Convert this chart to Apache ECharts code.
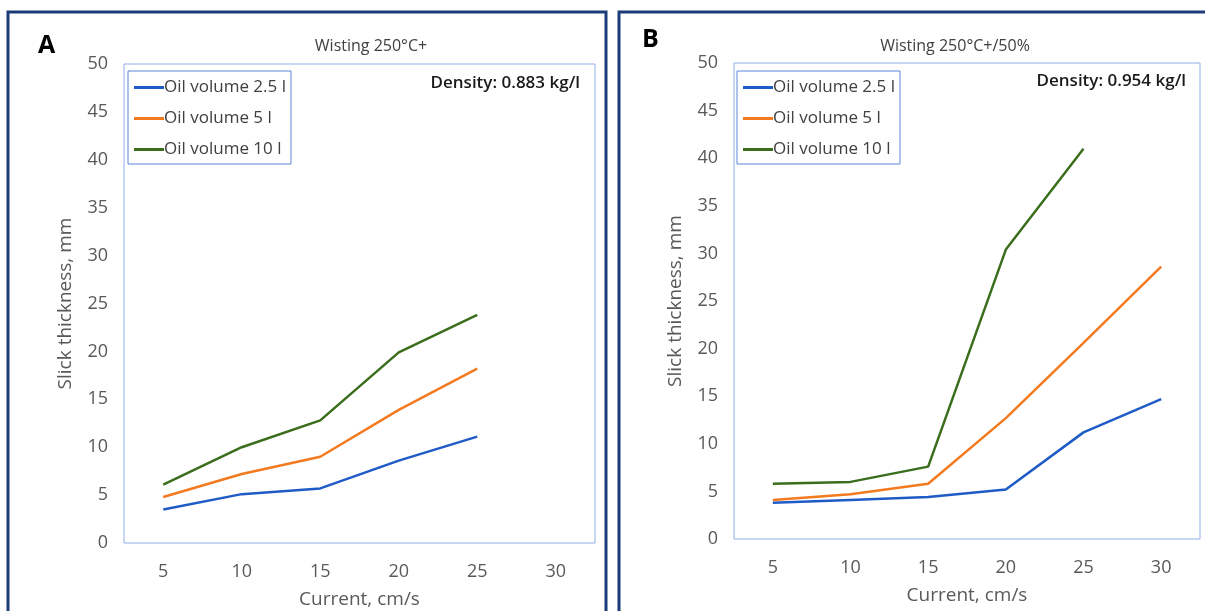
<!DOCTYPE html>
<html>
<head>
<meta charset="utf-8">
<script src="https://cdn.jsdelivr.net/npm/echarts@6/dist/echarts.min.js"></script>
<style>
  html, body { margin: 0; padding: 0; background: #fff; }
  #chart { width: 1205px; height: 611px; }
</style>
</head>
<body>
<div id="chart"></div>
<script>
// current, cm/s
const currents = ["5", "10", "15", "20", "25", "30"];
const seriesNames = ["Oil volume 2.5 l", "Oil volume 5 l", "Oil volume 10 l"];

// panel A - Wisting 250°C+
const aVol25 = [3.5, 5.1, 5.7, 8.6, 11.1];
const aVol5 = [4.8, 7.2, 9.0, 13.9, 18.2];
const aVol10 = [6.1, 10.0, 12.8, 19.9, 23.8];

// panel B - Wisting 250°C+/50%
const bVol25 = [3.8, 4.1, 4.4, 5.2, 11.2, 14.7];
const bVol5 = [4.1, 4.7, 5.8, 12.7, 20.6, 28.6];
const bVol10 = [5.8, 6.0, 7.6, 30.4, 41.0];

const colors = ["#1f5bc6", "#f47a20", "#3b6e1c"];
const font = "Open Sans";
const txt = "#595959";
const plotBorder = "#8eaee8";
const frame = "#1b3c78";

function xAxis(idx) {
  return {
    type: "category",
    gridIndex: idx,
    data: currents,
    boundaryGap: true,
    axisLine: { show: false },
    axisTick: { show: false },
    axisLabel: { color: txt, fontSize: 18, fontFamily: font, margin: 20 },
    name: "Current, cm/s",
    nameLocation: "middle",
    nameGap: 47,
    nameTextStyle: { color: txt, fontSize: 19, fontFamily: font },
  };
}

function yAxis(idx) {
  return {
    type: "value",
    gridIndex: idx,
    min: 0,
    max: 50,
    interval: 5,
    axisLine: { show: false },
    axisTick: { show: false },
    splitLine: { show: false },
    axisLabel: { color: txt, fontSize: 18, fontFamily: font, margin: 16 },
    name: "Slick thickness, mm",
    nameLocation: "middle",
    nameGap: 49,
    nameTextStyle: { color: txt, fontSize: 19, fontFamily: font },
  };
}

function line(name, data, idx, color) {
  return {
    name: name,
    type: "line",
    xAxisIndex: idx,
    yAxisIndex: idx,
    data: data,
    showSymbol: false,
    symbol: "none",
    color: color,
    lineStyle: { width: 2.5, color: color },
  };
}

function legend(left) {
  return {
    data: seriesNames,
    orient: "vertical",
    left: left,
    top: 71,
    padding: [8, 5, 6, 6],
    itemGap: 14,
    itemWidth: 30,
    itemHeight: 3,
    icon: "rect",
    borderColor: "#5b86d8",
    borderWidth: 1,
    borderRadius: 0,
    selectedMode: false,
    textStyle: { color: "#404040", fontSize: 17, fontFamily: font, padding: [0, 0, 0, -5] },
  };
}

const option = {
  animation: false,
  color: colors,
  title: [
    { text: "A", left: 33, top: 28, textStyle: { fontSize: 25, fontWeight: "bold", color: "#000", fontFamily: font } },
    { text: "B", left: 637, top: 22, textStyle: { fontSize: 25, fontWeight: "bold", color: "#000", fontFamily: font } },
    { text: "Wisting 250°C+", left: 366, top: 33, textAlign: "center", textStyle: { fontSize: 16, fontWeight: "normal", color: "#404040", fontFamily: font } },
    { text: "Wisting 250°C+/50%", left: 950, top: 33, textAlign: "center", textStyle: { fontSize: 16, fontWeight: "normal", color: "#404040", fontFamily: font } },
    { text: "Density: 0.883 kg/l", right: 1205 - 585, top: 70, textStyle: { fontSize: 17, fontWeight: 600, color: "#1a1a1a", fontFamily: font } },
    { text: "Density: 0.954 kg/l", right: 1205 - 1191, top: 68, textStyle: { fontSize: 17, fontWeight: 600, color: "#1a1a1a", fontFamily: font } },
  ],
  legend: [legend(128), legend(737)],
  grid: [
    { left: 124, top: 64, width: 471, height: 479, show: true, borderColor: plotBorder, borderWidth: 1, outerBoundsMode: "none" },
    { left: 734, top: 63, width: 466, height: 476, show: true, borderColor: plotBorder, borderWidth: 1, outerBoundsMode: "none" },
  ],
  xAxis: [xAxis(0), xAxis(1)],
  yAxis: [yAxis(0), yAxis(1)],
  series: [
    line(seriesNames[0], aVol25, 0, colors[0]),
    line(seriesNames[1], aVol5, 0, colors[1]),
    line(seriesNames[2], aVol10, 0, colors[2]),
    line(seriesNames[0], bVol25, 1, colors[0]),
    line(seriesNames[1], bVol5, 1, colors[1]),
    line(seriesNames[2], bVol10, 1, colors[2]),
  ],
  graphic: [
    { type: "rect", shape: { x: 8, y: 12, width: 598, height: 620 }, style: { fill: "none", stroke: frame, lineWidth: 3 }, silent: true },
    { type: "rect", shape: { x: 619, y: 12, width: 620, height: 620 }, style: { fill: "none", stroke: frame, lineWidth: 3 }, silent: true },
  ],
};

const chart = echarts.init(document.getElementById("chart"));
chart.setOption(option);
</script>
</body>
</html>
